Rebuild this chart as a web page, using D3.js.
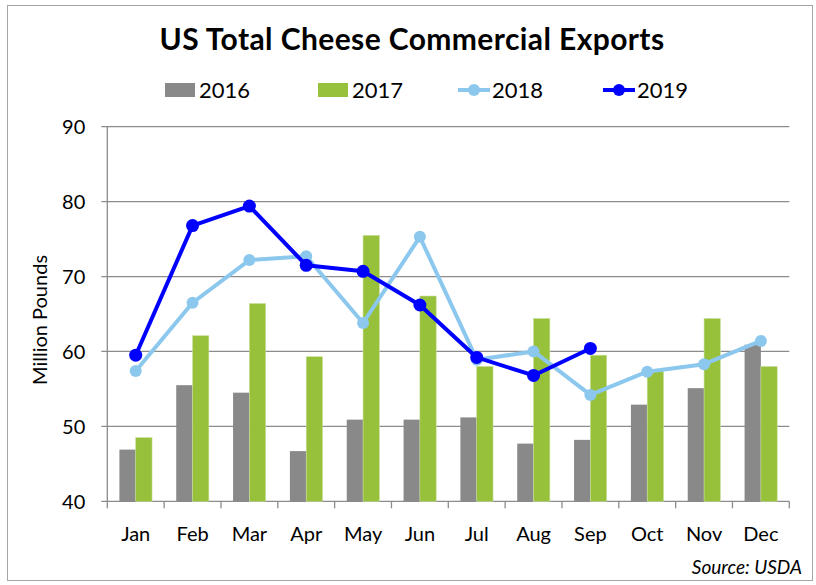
<!DOCTYPE html>
<html>
<head>
<meta charset="utf-8">
<script src="https://cdn.jsdelivr.net/npm/d3@7"></script>
<style>
  body { margin: 0; background: #fff; }
  svg { display: block; font-family: Lato, "Open Sans", sans-serif; }
</style>
</head>
<body>
<div id="chart"></div>
<script>
// data (million pounds)
const months = ['Jan', 'Feb', 'Mar', 'Apr', 'May', 'Jun', 'Jul', 'Aug', 'Sep', 'Oct', 'Nov', 'Dec'];
const y2016 = [46.9, 55.5, 54.5, 46.7, 50.9, 50.9, 51.2, 47.7, 48.2, 52.9, 55.1, 60.9];
const y2017 = [48.5, 62.1, 66.4, 59.3, 75.5, 67.4, 58.0, 64.4, 59.5, 57.4, 64.4, 58.0];
const y2018 = [57.4, 66.5, 72.2, 72.7, 63.8, 75.3, 58.9, 60.0, 54.2, 57.3, 58.3, 61.4];
const y2019 = [59.5, 76.8, 79.4, 71.5, 70.7, 66.2, 59.2, 56.8, 60.4];
const yTicks = [40, 50, 60, 70, 80, 90];

const colors = { g2016: '#898989', g2017: '#97c13a', l2018: '#8cc8ee', l2019: '#0000ff' };
const axisColor = '#8c8c8c';

const svgWidth = 816, svgHeight = 585;
const margin = { top: 126.7, right: 26.7, bottom: 83.7, left: 107.3 };
const width = svgWidth - margin.left - margin.right;
const height = svgHeight - margin.top - margin.bottom;

const x = d3.scaleBand().domain(months).range([0, width]);
const y = d3.scaleLinear().domain([40, 90]).range([height, 0]);
const barW = x.bandwidth() * 0.287;

let svg = d3.select('#chart')
  .append('svg')
  .attr('width', svgWidth)
  .attr('height', svgHeight);

// outer frame
svg.append('rect')
  .attr('x', 7.5).attr('y', 5.5)
  .attr('width', 805).attr('height', 575)
  .attr('fill', 'none')
  .attr('stroke', '#a6a6a6')
  .attr('stroke-width', 1);

// title
svg.append('text')
  .attr('x', 412).attr('y', 50)
  .attr('text-anchor', 'middle')
  .style('font-size', '30px')
  .style('font-weight', 'bold')
  .style('letter-spacing', '0.4px')
  .text('US Total Cheese Commercial Exports');

// legend
let legend = svg.append('g').style('font-size', '22px');
const legendItems = [
  { label: '2016', type: 'bar', color: colors.g2016, x: 165 },
  { label: '2017', type: 'bar', color: colors.g2017, x: 318 },
  { label: '2018', type: 'line', color: colors.l2018, x: 458 },
  { label: '2019', type: 'line', color: colors.l2019, x: 603 }
];
legendItems.forEach(d => {
  let g = legend.append('g').attr('transform', 'translate(' + d.x + ',90)');
  if (d.type === 'bar') {
    g.append('rect').attr('x', 0).attr('y', -7).attr('width', 30).attr('height', 14).attr('fill', d.color);
  } else {
    g.append('line').attr('x1', 0).attr('x2', 32).attr('y1', 0).attr('y2', 0)
      .attr('stroke', d.color).attr('stroke-width', 4);
    g.append('circle').attr('cx', 16).attr('cy', 0).attr('r', 6).attr('fill', d.color);
  }
  g.append('text')
    .attr('x', 34)
    .attr('y', 7.5)
    .text(d.label);
});

let focus = svg.append('g')
  .attr('transform', 'translate(' + margin.left + ',' + margin.top + ')');

// gridlines + y ticks
focus.append('g')
  .selectAll('line')
  .data(yTicks)
  .enter()
  .append('line')
  .attr('x1', -6).attr('x2', width)
  .attr('y1', d => y(d)).attr('y2', d => y(d))
  .attr('stroke', axisColor)
  .attr('stroke-width', 1.3);

focus.append('g')
  .style('font-size', '20px')
  .selectAll('text')
  .data(yTicks)
  .enter()
  .append('text')
  .attr('x', -22)
  .attr('y', d => y(d) + 7.3)
  .attr('text-anchor', 'end')
  .text(d => d);

// y axis line
focus.append('line')
  .attr('x1', 0).attr('x2', 0).attr('y1', 0).attr('y2', height)
  .attr('stroke', axisColor).attr('stroke-width', 1.3);

// x axis ticks at band edges
const edges = months.map(m => x(m)).concat([width]);
focus.append('g')
  .selectAll('line')
  .data(edges)
  .enter()
  .append('line')
  .attr('x1', d => d).attr('x2', d => d)
  .attr('y1', height).attr('y2', height + 7)
  .attr('stroke', axisColor).attr('stroke-width', 1.3);

focus.append('g')
  .style('font-size', '20px')
  .selectAll('text')
  .data(months)
  .enter()
  .append('text')
  .attr('x', d => x(d) + x.bandwidth() / 2)
  .attr('y', height + 40)
  .attr('text-anchor', 'middle')
  .text(d => d);

// y axis title
svg.append('text')
  .attr('transform', 'translate(47,320) rotate(-90)')
  .attr('text-anchor', 'middle')
  .style('font-size', '20px')
  .text('Million Pounds');

// bars
const cx = m => x(m) + x.bandwidth() / 2;
focus.append('g')
  .selectAll('rect')
  .data(months.map((m, i) => ({ m, v: y2016[i] })))
  .enter()
  .append('rect')
  .attr('x', d => cx(d.m) - barW)
  .attr('y', d => y(d.v))
  .attr('width', barW)
  .attr('height', d => height - y(d.v))
  .attr('fill', colors.g2016);

focus.append('g')
  .selectAll('rect')
  .data(months.map((m, i) => ({ m, v: y2017[i] })))
  .enter()
  .append('rect')
  .attr('x', d => cx(d.m))
  .attr('y', d => y(d.v))
  .attr('width', barW)
  .attr('height', d => height - y(d.v))
  .attr('fill', colors.g2017)
  .attr('stroke', '#c9df9c')
  .attr('stroke-width', 0.6);

// lines
let valueline = d3.line()
  .x(d => cx(d.m))
  .y(d => y(d.v));

function drawSeries(values, color, width, r) {
  let data = values.map((v, i) => ({ m: months[i], v }));
  let g = focus.append('g');
  g.append('path')
    .datum(data)
    .attr('d', valueline)
    .attr('fill', 'none')
    .attr('stroke', color)
    .attr('stroke-width', width)
    .attr('stroke-linejoin', 'round');
  g.selectAll('circle')
    .data(data)
    .enter()
    .append('circle')
    .attr('cx', d => cx(d.m))
    .attr('cy', d => y(d.v))
    .attr('r', r)
    .attr('fill', color);
}
drawSeries(y2018, colors.l2018, 4, 6);
drawSeries(y2019, colors.l2019, 4, 6.5);

// source note
svg.append('text')
  .attr('x', 802).attr('y', 574)
  .attr('text-anchor', 'end')
  .style('font-size', '19px')
  .style('font-style', 'italic')
  .text('Source: USDA');
</script>
</body>
</html>
